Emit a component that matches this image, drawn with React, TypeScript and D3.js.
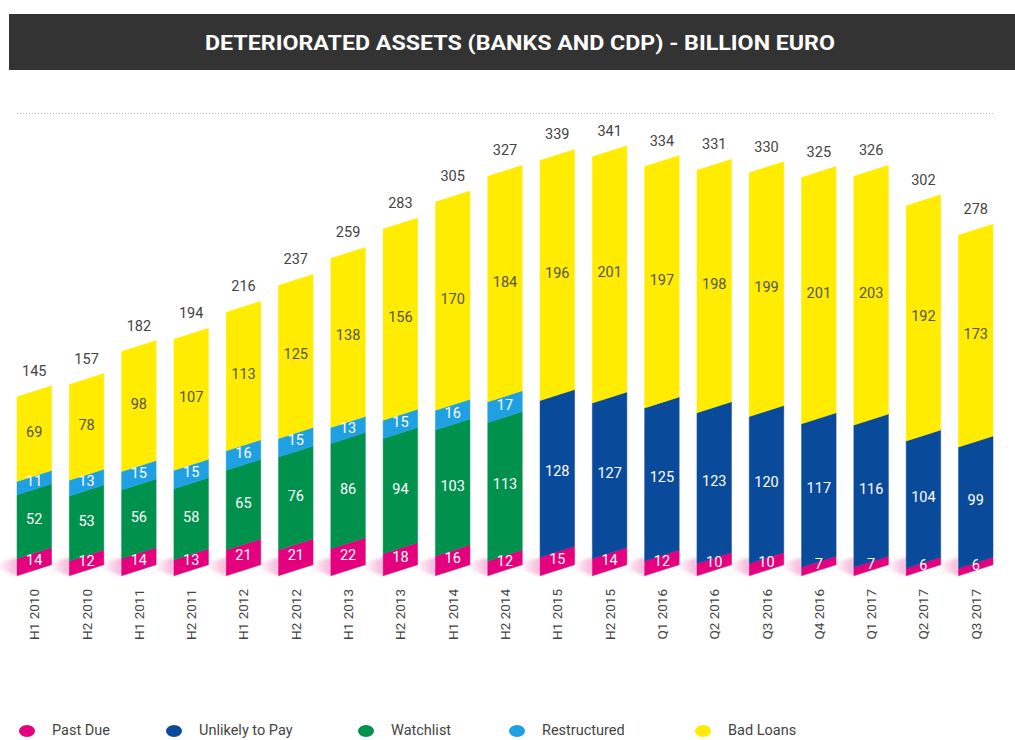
import React from "react";
import * as d3 from "d3";

const categories = ["H1 2010","H2 2010","H1 2011","H2 2011","H1 2012","H2 2012","H1 2013","H2 2013","H1 2014","H2 2014","H1 2015","H2 2015","Q1 2016","Q2 2016","Q3 2016","Q4 2016","Q1 2017","Q2 2017","Q3 2017"];
const totals = [145,157,182,194,216,237,259,283,305,327,339,341,334,331,330,325,326,302,278];
const pastDue = [14,12,14,13,21,21,22,18,16,12,15,14,12,10,10,7,7,6,6];
const unlikelyToPay = [0,0,0,0,0,0,0,0,0,0,128,127,125,123,120,117,116,104,99];
const watchlist = [52,53,56,58,65,76,86,94,103,113,0,0,0,0,0,0,0,0,0];
const restructured = [11,13,15,15,16,15,13,15,16,17,0,0,0,0,0,0,0,0,0];
const badLoans = [69,78,98,107,113,125,138,156,170,184,196,201,197,198,199,201,203,192,173];

const seriesNames = ["Past Due","Unlikely to Pay","Watchlist","Restructured","Bad Loans"];
const seriesValues = [pastDue, unlikelyToPay, watchlist, restructured, badLoans];
const seriesColors = ["#E5007E","#0A4A9B","#00924D","#1FA0E3","#FFEC00"];
const labelColors = ["#fff","#fff","#fff","#fff","#555"];

const TITLE = "DETERIORATED ASSETS (BANKS AND CDP) - BILLION EURO";

export default function App() {
  const W = 1015, H = 740;
  const baseY = 575.7;
  const skew = 11;
  const x = d3.scaleBand<string>().domain(categories).range([17, 993]).paddingInner(0.34).paddingOuter(0);
  const y = d3.scaleLinear().domain([0, 100]).range([baseY, baseY - 122.5]);
  const bw = x.bandwidth();
  const font = "Roboto, 'Noto Sans', sans-serif";

  const bars = categories.map((c, i) => {
    const xl = x(c)!;
    const xr = xl + bw;
    let acc = 0;
    const segs = seriesValues.map((vals, s) => {
      const v = vals[i];
      const y0 = y(acc), y1 = y(acc + v);
      acc += v;
      return { s, v, y0, y1 };
    }).filter(d => d.v > 0);
    return { c, i, xl, xr, segs, top: y(acc) };
  });

  const legendX = [27, 174, 366, 517, 703];

  return (
    <svg width={W} height={H} style={{ position: "absolute", left: 0, top: 0, background: "#fff" }}>
      <defs>
        <linearGradient id="shadowGrad" x1="0" x2="1" y1="0" y2="0">
          <stop offset="0" stopColor="#E5007E" stopOpacity={0} />
          <stop offset="1" stopColor="#E5007E" stopOpacity={0.3} />
        </linearGradient>
        <filter id="blur" x="-50%" y="-50%" width="200%" height="200%">
          <feGaussianBlur stdDeviation="1.5" />
        </filter>
      </defs>
      <rect x={0} y={0} width={W} height={H} fill="#fff" />
      <rect x={9} y={14} width={W - 9} height={56} fill="#333333" />
      <text x={520} y={50} textAnchor="middle" fill="#fff" fontFamily={font} fontWeight={700} fontSize={21} textLength={630} lengthAdjust="spacingAndGlyphs">{TITLE}</text>
      <line x1={17} x2={993} y1={113.5} y2={113.5} stroke="#bbb" strokeDasharray="1,2" strokeWidth={1} />

      {bars.map(b => (
        <g key={b.c}>
          <polygon
            points={`${b.xl},${baseY} ${b.xl},${baseY - 18} ${b.xl - 20},${baseY - 13} ${b.xl - 20},${baseY - 7}`}
            fill="url(#shadowGrad)" filter="url(#blur)" />
          {b.segs.map(sg => (
            <polygon key={sg.s}
              points={`${b.xl},${sg.y0} ${b.xr},${sg.y0 - skew} ${b.xr},${sg.y1 - skew} ${b.xl},${sg.y1}`}
              fill={seriesColors[sg.s]} stroke={seriesColors[sg.s]} strokeWidth={0.5} />
          ))}
          {b.segs.map(sg => (
            <text key={"t" + sg.s} x={b.xl + bw / 2} y={(sg.y0 + sg.y1) / 2 - skew / 2 + 3}
              textAnchor="middle" fill={labelColors[sg.s]} fontFamily={font} fontSize={14.5}>{sg.v}</text>
          ))}
          <text x={b.xl + bw / 2} y={b.top - 21} textAnchor="middle" fill="#444" fontFamily={font} fontSize={14.5}>{totals[b.i]}</text>
          <text transform={`translate(${b.xl + bw / 2 + 5},${589}) rotate(-90)`} textAnchor="end" fill="#444" fontFamily={font} fontSize={13.5}>{b.c}</text>
        </g>
      ))}

      {seriesNames.map((n, k) => (
        <g key={n}>
          <ellipse cx={legendX[k]} cy={731} rx={8} ry={6} fill={seriesColors[k]} />
          <text x={legendX[k] + 25} y={735} fill="#444" fontFamily={font} fontSize={14.5}>{n}</text>
        </g>
      ))}
    </svg>
  );
}
